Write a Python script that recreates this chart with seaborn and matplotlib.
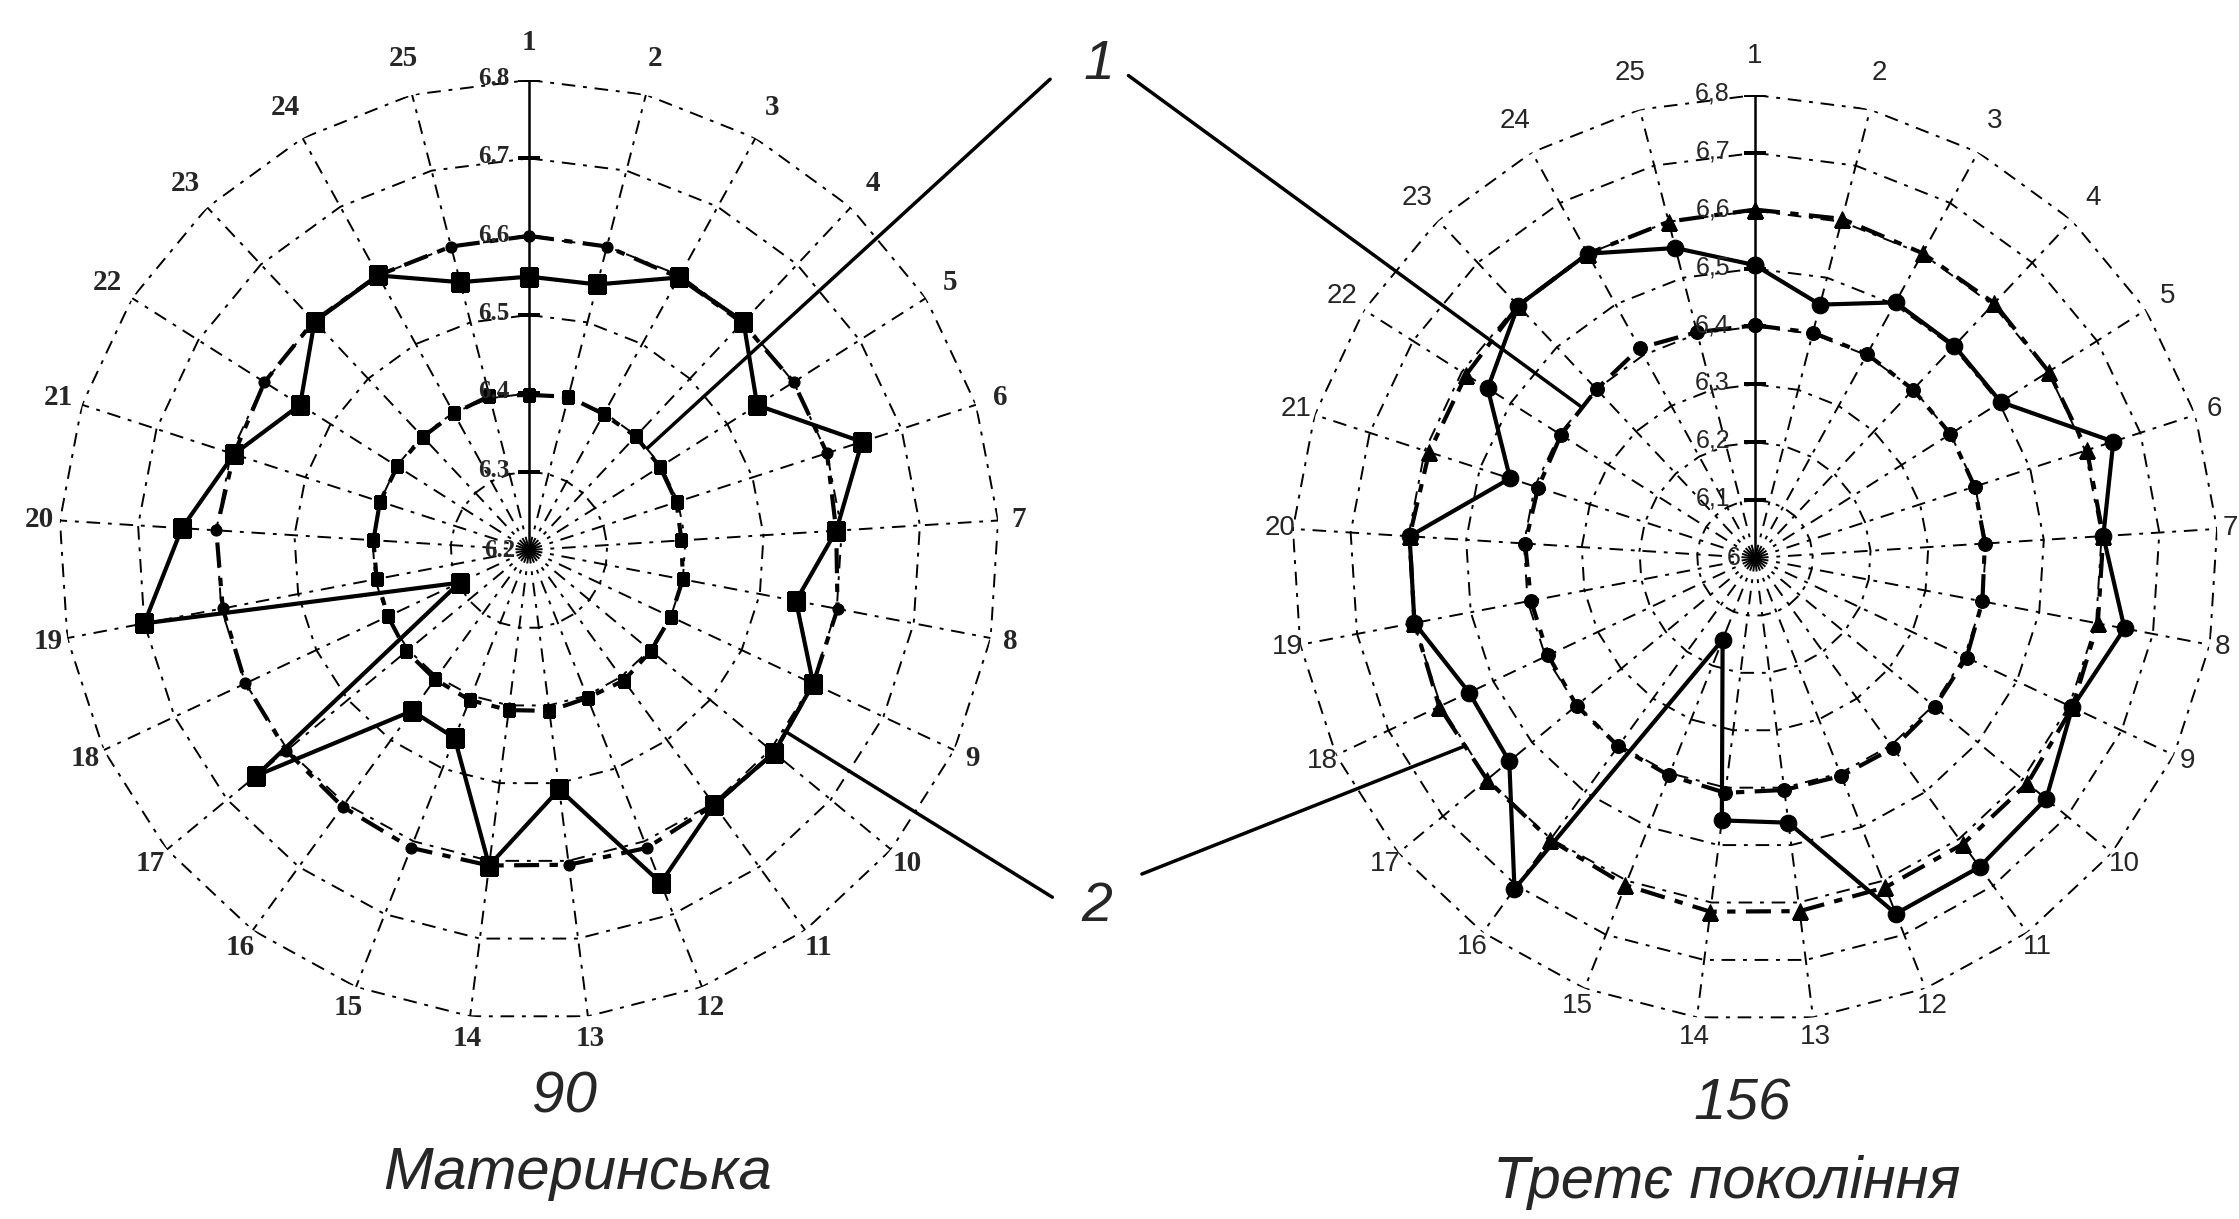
import numpy as np
import pandas as pd
import matplotlib
matplotlib.use('Agg')
import matplotlib.pyplot as plt
import seaborn as sns

# номери ознак (25 променів)
spokes = [str(i) for i in range(1, 26)]

# 90 - Материнська
mat_levels = [6.3, 6.4, 6.5, 6.6, 6.7, 6.8]
mat_labels = ['6.3', '6.4', '6.5', '6.6', '6.7', '6.8']
mat_center = '6.2'
mat_1 = [6.398, 6.402, 6.398, 6.399, 6.398, 6.398, 6.395, 6.400, 6.400, 6.402, 6.406, 6.403, 6.407,
         6.406, 6.406, 6.404, 6.403, 6.399, 6.398, 6.399, 6.400, 6.399, 6.398, 6.399, 6.403]
mat_2 = [6.601, 6.600, 6.597, 6.598, 6.600, 6.600, 6.593, 6.601, 6.601, 6.606, 6.602, 6.609, 6.605,
         6.606, 6.609, 6.605, 6.602, 6.600, 6.598, 6.600, 6.596, 6.600, 6.601, 6.600, 6.600]
mat_p = [6.549, 6.550, 6.597, 6.600, 6.545, 6.647, 6.593, 6.547, 6.601, 6.606, 6.602, 6.657, 6.508,
         6.606, 6.458, 6.454, 6.652, 6.298, 6.700, 6.644, 6.596, 6.546, 6.600, 6.600, 6.553]

# 156 - Третє покоління
tre_levels = [6.1, 6.2, 6.3, 6.4, 6.5, 6.6, 6.7, 6.8]
tre_labels = ['6,1', '6,2', '6,3', '6,4', '6,5', '6,6', '6,7', '6,8']
tre_center = '6'
tre_1 = [6.402, 6.402, 6.402, 6.399, 6.400, 6.399, 6.398, 6.400, 6.404, 6.403, 6.406, 6.405, 6.404,
         6.409, 6.404, 6.402, 6.400, 6.395, 6.394, 6.398, 6.394, 6.397, 6.400, 6.414, 6.403]
tre_2 = [6.602, 6.605, 6.601, 6.604, 6.601, 6.603, 6.603, 6.603, 6.606, 6.611, 6.611, 6.612, 6.615,
         6.616, 6.608, 6.602, 6.601, 6.603, 6.599, 6.598, 6.592, 6.591, 6.598, 6.600, 6.600]
tre_p = [6.506, 6.452, 6.504, 6.503, 6.503, 6.651, 6.603, 6.650, 6.606, 6.653, 6.660, 6.661, 6.461,
         6.457, 6.152, 6.707, 6.551, 6.546, 6.599, 6.598, 6.445, 6.547, 6.598, 6.600, 6.553]

sns.set_style('white')
plt.rcParams['font.family'] = ['Liberation Sans', 'DejaVu Sans']

theta = np.deg2rad(np.arange(25) * 360 / 25)
closed = np.append(theta, 2 * np.pi)
grid_ls = (0, (7, 4, 2, 4))
data_ls = (0, (6, 2.5, 2, 2.5))


def series(ax, vals, marker, ms, ls, lw):
    df = pd.DataFrame({'theta': closed, 'value': list(vals) + [vals[0]]})
    sns.lineplot(data=df, x='theta', y='value', ax=ax, color='k', marker=marker,
                 markersize=ms, mec='k', linestyle=ls, lw=lw, sort=False, estimator=None)


def radar(ax, levels, rmin, labels, center, s1, s2, sp, fam, weight, lab_size, val_size,
          off, m1, m2, mp):
    ax.set_theta_zero_location('N')
    ax.set_theta_direction(-1)
    ax.grid(False)
    ax.spines['polar'].set_visible(False)
    for lv in levels:
        ax.plot(closed, [lv] * 26, color='k', lw=1.4, ls=grid_ls)
    for i, t in enumerate(theta):
        ax.plot([t, t], [rmin, levels[-1]], color='k', lw=1.4 if i else 1.8,
                ls=grid_ls if i else '-')
    ax.plot([0] * len(levels), levels, ls='none', marker='_', ms=16, mew=1.6, color='k')

    series(ax, s1, m1[0], m1[1], data_ls, 3)
    series(ax, s2, m2[0], m2[1], data_ls, 3)
    series(ax, sp, mp[0], mp[1], '-', 3)

    ax.set_xlim(0, 2 * np.pi)
    ax.set_ylim(rmin, levels[-1])
    ax.set_xticks([])
    ax.set_yticks([])
    ax.set_xlabel('')
    ax.set_ylabel('')

    # номери променів за колом
    for i, t in enumerate(theta):
        c = np.cos(t)
        d = off[0] + off[1] * abs(c) + off[2] * max(c, 0)
        ax.annotate(spokes[i], xy=(t, levels[-1]), xytext=(d * np.sin(t), d * c),
                    textcoords='offset points', ha='center', va='center', fontsize=lab_size,
                    family=fam, weight=weight, annotation_clip=False)
    for lv, lab in zip(levels, labels):
        ax.annotate(lab, xy=(0, lv), xytext=(-off[3], 1), textcoords='offset points', ha='right',
                    va='center', fontsize=val_size, family=fam, weight=weight)
    ax.annotate(center, xy=(0, rmin), xytext=(-10, 0), textcoords='offset points', ha='right',
                va='center', fontsize=val_size, family=fam, weight=weight)


fig = plt.figure(figsize=(22.39, 12.19), dpi=100)
ax_l = fig.add_axes([0.02635, 0.16325, 0.41983, 0.77112], projection='polar')
ax_r = fig.add_axes([0.57704, 0.16243, 0.41358, 0.75964], projection='polar')

radar(ax_l, mat_levels, 6.2, mat_labels, mat_center, mat_1, mat_2, mat_p,
      'Liberation Serif', 'bold', 21, 18, (14, 2, 11, 14), ('s', 8), ('o', 8), ('s', 13))
radar(ax_r, tre_levels, 6.0, tre_labels, tre_center, tre_1, tre_2, tre_p,
      'Liberation Sans', 'normal', 20, 18, (8, 6, 14, 18), ('o', 10), ('^', 12), ('o', 12))

# виноски 1 і 2
lead = dict(arrowstyle='-', lw=2.5, color='k', shrinkA=0, shrinkB=0)
ax_l.annotate('', xy=(np.deg2rad(49.3), 6.40), xytext=(0.469, 0.935), textcoords='figure fraction',
              arrowprops=lead, annotation_clip=False)
ax_r.annotate('', xy=(np.deg2rad(311), 6.40), xytext=(0.504, 0.938), textcoords='figure fraction',
              arrowprops=lead, annotation_clip=False)
ax_l.annotate('', xy=(np.deg2rad(125.3), 6.60), xytext=(0.470, 0.264), textcoords='figure fraction',
              arrowprops=lead, annotation_clip=False)
ax_r.annotate('', xy=(np.deg2rad(237.1), 6.60), xytext=(0.510, 0.283), textcoords='figure fraction',
              arrowprops=lead, annotation_clip=False)
fig.text(0.491, 0.947, '1', fontsize=40, style='italic', ha='center', va='center')
fig.text(0.490, 0.256, '2', fontsize=40, style='italic', ha='center', va='center')

fig.text(0.252, 0.100, '90', fontsize=42, style='italic', ha='center', va='center')
fig.text(0.258, 0.037, 'Материнська', fontsize=43, style='italic', ha='center', va='center')
fig.text(0.778, 0.094, '156', fontsize=42, style='italic', ha='center', va='center')
fig.text(0.771, 0.030, 'Третє покоління', fontsize=43, style='italic', ha='center', va='center')

fig.savefig('out.png', dpi=100, facecolor='white')
